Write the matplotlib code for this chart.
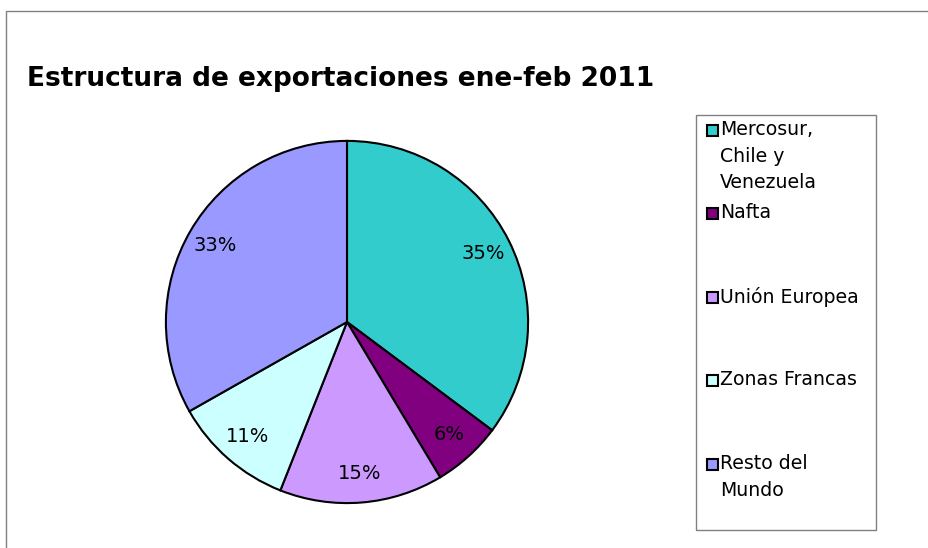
import matplotlib.pyplot as plt
from matplotlib.patches import Rectangle

# chart data
labels = ["Mercosur,\nChile y\nVenezuela", "Nafta", "Unión Europea", "Zonas Francas", "Resto del\nMundo"]
shares = [35.2, 6.2, 14.6, 10.8, 33.2]
colors = ["#33CCCC", "#800080", "#CC99FF", "#CCFFFF", "#9999FF"]
title = "Estructura de exportaciones ene-feb 2011"

W, H = 929, 548
fig = plt.figure(figsize=(W / 100, H / 100), dpi=100)

def fx(px):
    return px / W

def fy(py):
    return 1 - py / H

# outer chart frame (cut by the image edge on right and bottom)
fig.patches.append(Rectangle((fx(6), fy(560)), fx(940) - fx(6), fy(11) - fy(560),
                             transform=fig.transFigure, fill=False, edgecolor="#808080", lw=1))

fig.text(fx(27), fy(79), title, fontsize=19, fontweight="bold", va="center", ha="left")

# pie: centre ~ (347, 322), radius ~ 182 px
r = 182
ax = fig.add_axes([fx(347 - r), fy(322 + r), 2 * r / W, 2 * r / H])
wedges, texts, autotexts = ax.pie(
    shares, colors=colors, startangle=90, counterclock=False,
    autopct="%.0f%%", pctdistance=0.84,
    wedgeprops=dict(edgecolor="black", linewidth=1.5),
    textprops=dict(fontsize=14, color="black"))
ax.set_xlim(-1.005, 1.005)
ax.set_ylim(-1.005, 1.005)
ax.set_aspect("equal")

# legend box
fig.patches.append(Rectangle((fx(696), fy(530)), fx(876) - fx(696), fy(115) - fy(530),
                             transform=fig.transFigure, fill=False, edgecolor="#808080", lw=1))
entry_y = [131, 214, 298, 381, 465]
for lab, col, y in zip(labels, colors, entry_y):
    fig.patches.append(Rectangle((fx(707), fy(y + 5)), 11 / W, 11 / H,
                                 transform=fig.transFigure, facecolor=col,
                                 edgecolor="black", lw=1.5))
    fig.text(fx(720), fy(y - 11), lab, fontsize=13.6, va="top", ha="left", linespacing=1.5)

fig.savefig("out.png", dpi=100)
